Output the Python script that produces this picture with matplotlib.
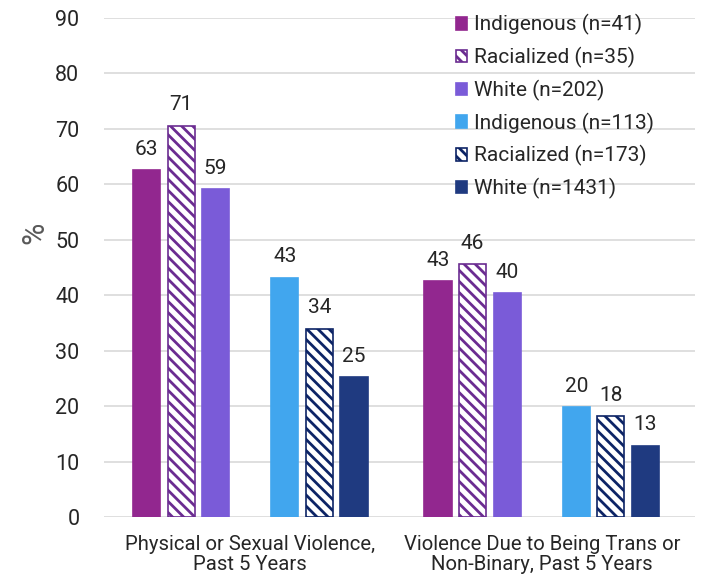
import matplotlib.pyplot as plt
import numpy as np

plt.rcParams['font.family'] = ['Roboto', 'DejaVu Sans']

categories = ["Physical or Sexual Violence,\nPast 5 Years",
              "Violence Due to Being Trans or\nNon-Binary, Past 5 Years"]
series_names = ["Indigenous (n=41)", "Racialized (n=35)", "White (n=202)",
                "Indigenous (n=113)", "Racialized (n=173)", "White (n=1431)"]
values = [
    [62.6, 42.5],
    [70.6, 45.6],
    [59.1, 40.4],
    [43.2, 19.8],
    [34.0, 18.3],
    [25.2, 12.9],
]
labels = [[63, 43], [71, 46], [59, 40], [43, 20], [34, 18], [25, 13]]

face = ["#92278f", "white", "#7a5bd8", "#41a6ee", "white", "#1f3a80"]
edge = ["#92278f", "#6b2c91", "#7a5bd8", "#41a6ee", "#0d2466", "#1f3a80"]
hatch = [None, "\\\\\\", None, None, "\\\\\\", None]
slots = [-3, -2, -1, 1, 2, 3]

plt.rcParams['hatch.linewidth'] = 2.0

fig = plt.figure(figsize=(7.01, 5.81), dpi=100)
ax = fig.add_axes([0.149, 0.110, 0.843, 0.859])

x = np.arange(len(categories))
step = 0.1186
width = 0.093
for i in range(6):
    bars = ax.bar(x + slots[i] * step, values[i], width, color=face[i],
                  edgecolor=edge[i], hatch=hatch[i], linewidth=1.2,
                  label=series_names[i], zorder=3)
    for b, lab in zip(bars, labels[i]):
        ax.text(b.get_x() + b.get_width() / 2, b.get_height() + 2.0, str(lab),
                ha='center', va='bottom', fontsize=15, color='#262626')

ax.set_xlim(-0.5, 1.527)
ax.set_ylim(0, 90)
ax.set_yticks(np.arange(0, 91, 10))
ax.set_xticks(x)
ax.set_xticklabels(categories, fontsize=14.6, color='#262626', linespacing=1.05)
ax.tick_params(axis='y', length=0, pad=18, labelsize=15.5, labelcolor='#262626')
ax.tick_params(axis='x', length=0, pad=13)
ax.grid(axis='y', color='#d9d9d9', linewidth=1.2, zorder=0)
for s in ax.spines.values():
    s.set_visible(False)
ax.set_ylabel('%', fontsize=22, color='#595959')
ax.yaxis.set_label_coords(-0.094, 0.57)

ax.legend(loc='upper left', bbox_to_anchor=(0.563, 1.045), frameon=False,
          fontsize=15, handlelength=0.55, handleheight=0.55,
          handletextpad=0.3, labelspacing=0.56, labelcolor='#262626')

fig.savefig('out.png', dpi=100)
